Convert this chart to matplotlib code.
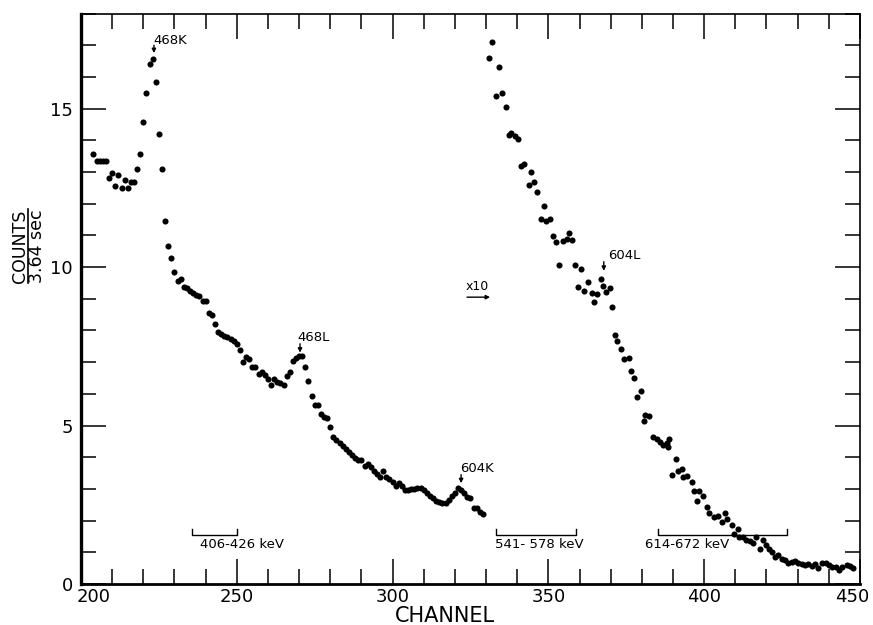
import numpy as np
import matplotlib
matplotlib.use("Agg")
import matplotlib.pyplot as plt
from matplotlib.ticker import MultipleLocator, FuncFormatter

plt.rcParams['font.family'] = ['DejaVu Sans']

# low-energy part of the spectrum, one point per channel
left_ch = list(range(204, 330))
left_counts = [
    13.56, 13.35, 13.35, 13.35, 13.35, 12.80, 12.97, 12.57, 12.91, 12.48,
    12.74, 12.48, 12.69, 12.69, 13.10, 13.57, 14.58, 15.50, 16.41, 16.55,
    15.83, 14.20, 13.09, 11.46, 10.67, 10.27, 9.85, 9.56, 9.63, 9.36,
    9.33, 9.25, 9.18, 9.12, 9.10, 8.93, 8.93, 8.56, 8.49, 8.19,
    7.94, 7.90, 7.82, 7.79, 7.74, 7.66, 7.58, 7.37, 7.01, 7.17,
    7.10, 6.84, 6.86, 6.62, 6.70, 6.59, 6.46, 6.28, 6.46, 6.38,
    6.35, 6.29, 6.57, 6.70, 7.03, 7.12, 7.18, 7.20, 6.84, 6.40,
    5.92, 5.66, 5.66, 5.37, 5.27, 5.25, 4.94, 4.65, 4.54, 4.46,
    4.35, 4.26, 4.18, 4.07, 3.96, 3.90, 3.90, 3.72, 3.79, 3.68,
    3.57, 3.46, 3.39, 3.57, 3.39, 3.30, 3.23, 3.09, 3.18, 3.09,
    2.97, 2.97, 2.99, 2.99, 3.02, 3.02, 2.97, 2.86, 2.78, 2.70,
    2.63, 2.58, 2.57, 2.57, 2.65, 2.78, 2.86, 3.02, 2.97, 2.86,
    2.75, 2.70, 2.41, 2.39, 2.28, 2.20,
]

# high-energy part, plotted x10
right_ch = [
    331.0, 332.0, 333.1, 334.2, 335.2, 336.5, 337.5, 338.1, 339.3, 340.3,
    341.2, 342.3, 343.7, 344.5, 345.4, 346.2, 347.5, 348.6, 349.2, 350.6,
    351.5, 352.3, 353.5, 354.6, 355.9, 356.6, 357.5, 358.5, 359.6, 360.6,
    361.5, 362.6, 363.9, 364.5, 365.5, 366.9, 367.6, 368.5, 369.7, 370.5,
    371.4, 372.1, 373.3, 374.3, 375.8, 376.6, 377.4, 378.5, 379.6, 380.8,
    381.0, 382.4, 383.7, 384.8, 385.8, 386.9, 388.0, 388.3, 388.8, 389.6,
    391.0, 391.7, 392.8, 393.3, 394.6, 396.0, 396.8, 397.8, 398.3, 399.7,
    400.8, 401.6, 403.2, 404.5, 405.8, 406.7, 407.5, 408.8, 409.6, 410.9,
    411.3, 412.4, 413.6, 414.7, 415.8, 416.6, 417.9, 418.8, 419.8, 420.9,
    421.7, 422.7, 423.8, 424.9, 425.9, 427.0, 428.1, 429.1, 430.2, 431.3,
    432.3, 433.4, 434.5, 435.6, 436.6, 437.7, 439.1, 440.2, 441.2, 442.3,
    443.4, 444.4, 445.7, 446.8, 447.8,
]
right_counts = [
    16.61, 17.09, 15.39, 16.30, 15.50, 15.05, 14.16, 14.24, 14.13, 14.05,
    13.19, 13.26, 12.58, 13.00, 12.69, 12.38, 11.52, 11.92, 11.44, 11.52,
    10.98, 10.80, 10.05, 10.83, 10.89, 11.08, 10.85, 10.08, 9.36, 9.95,
    9.25, 9.54, 9.17, 8.89, 9.16, 9.62, 9.41, 9.21, 9.34, 8.73,
    7.85, 7.68, 7.41, 7.10, 7.12, 6.73, 6.49, 5.91, 6.09, 5.15,
    5.33, 5.30, 4.63, 4.57, 4.49, 4.38, 4.46, 4.33, 4.56, 3.44,
    3.93, 3.56, 3.63, 3.37, 3.41, 3.23, 2.94, 2.63, 2.92, 2.78,
    2.44, 2.25, 2.12, 2.15, 1.97, 2.23, 2.04, 1.86, 1.58, 1.73,
    1.49, 1.47, 1.39, 1.37, 1.30, 1.49, 1.09, 1.39, 1.23, 1.09,
    1.02, 0.86, 0.91, 0.78, 0.76, 0.67, 0.70, 0.73, 0.65, 0.62,
    0.60, 0.62, 0.57, 0.62, 0.50, 0.65, 0.65, 0.60, 0.55, 0.55,
    0.44, 0.55, 0.60, 0.57, 0.50,
]

# peak labels: text, arrow channel, arrow tip, arrow tail
peak_names = ['468K', '468L', '604K', '604L']
peak_ch = [223.4, 270.3, 322.0, 367.8]
peak_tip = [16.75, 7.30, 3.18, 9.88]
peak_tail = [17.00, 7.58, 3.45, 10.17]
peak_text_ch = [228.5, 274.8, 327.2, 374.3]
peak_text_y = [17.16, 7.79, 3.63, 10.35]

# energy windows (channel ranges)
range_labels = ['406-426 keV', '541- 578 keV', '614-672 keV']
range_lo = [235.6, 333.2, 385.3]
range_hi = [250.1, 358.9, 426.7]
range_text_ch = [251.8, 347.1, 394.6]

fig = plt.figure(figsize=(8.73, 6.25), dpi=100)
ax = fig.add_axes([0.0928, 0.0656, 0.8922, 0.9128])

ax.plot(left_ch, left_counts, 'o', color='black', ms=4.4, mec='none')
ax.plot(right_ch, right_counts, 'o', color='black', ms=4.4, mec='none')

for name, xc, tip, tail, tx, ty in zip(peak_names, peak_ch, peak_tip, peak_tail,
                                       peak_text_ch, peak_text_y):
    ax.annotate('', xy=(xc, tip), xytext=(xc, tail),
                arrowprops=dict(arrowstyle='-|>', color='black', lw=1.0,
                                mutation_scale=6, shrinkA=0, shrinkB=0))
    ax.text(tx, ty, name, ha='center', va='center', fontsize=9.5)

# x10 marker for the right-hand part
ax.text(327.2, 9.40, 'x10', ha='center', va='center', fontsize=9)
ax.annotate('', xy=(331.3, 9.05), xytext=(323.9, 9.05),
            arrowprops=dict(arrowstyle='-|>', color='black', lw=1.0,
                            mutation_scale=6, shrinkA=0, shrinkB=0))

bracket_y = 1.56
for lab, lo, hi, tx in zip(range_labels, range_lo, range_hi, range_text_ch):
    ax.plot([lo, lo, hi, hi], [bracket_y + 0.17, bracket_y, bracket_y, bracket_y + 0.17],
            color='black', lw=1.0)
    ax.text(tx, 1.25, lab, ha='center', va='center', fontsize=9.5)

ax.set_xlim(200, 450)
ax.set_ylim(0, 18)
ax.xaxis.set_major_locator(MultipleLocator(50))
ax.xaxis.set_minor_locator(MultipleLocator(10))
ax.yaxis.set_major_locator(MultipleLocator(5))
ax.yaxis.set_minor_locator(MultipleLocator(1))
# the end labels (200, 450) are placed by hand below, nudged inwards
ax.xaxis.set_major_formatter(FuncFormatter(
    lambda v, pos: '' if v in (200, 450) else '%d' % v))
ax.tick_params(which='both', direction='in', top=True, right=True,
               width=1.1, labelsize=13)
ax.tick_params(which='major', length=18)
ax.tick_params(which='minor', length=11)
ax.tick_params(axis='y', pad=6)
ax.tick_params(axis='x', pad=3)

ax.text(204.0, -0.12, '200', ha='center', va='top', fontsize=13)
ax.text(447.6, -0.12, '450', ha='center', va='top', fontsize=13)

ax.spines['left'].set_linewidth(2.4)
ax.spines['bottom'].set_linewidth(2.0)
ax.spines['top'].set_linewidth(1.2)
ax.spines['right'].set_linewidth(1.2)

ax.text(316.8, -1.0, 'CHANNEL', ha='center', va='center', fontsize=15)

# y label drawn as a fraction: COUNTS over 3.64 sec
fig.text(19.5 / 873, 1 - 246 / 625, 'COUNTS', rotation=90,
         ha='center', va='center', fontsize=12.5)
fig.text(37.5 / 873, 1 - 246 / 625, '3.64 sec', rotation=90,
         ha='center', va='center', fontsize=12.5)
fig.add_artist(plt.Line2D([28.3 / 873, 28.3 / 873], [1 - 209 / 625, 1 - 283 / 625],
                          transform=fig.transFigure, color='black', lw=1.2))

fig.savefig('out.png', dpi=100)
